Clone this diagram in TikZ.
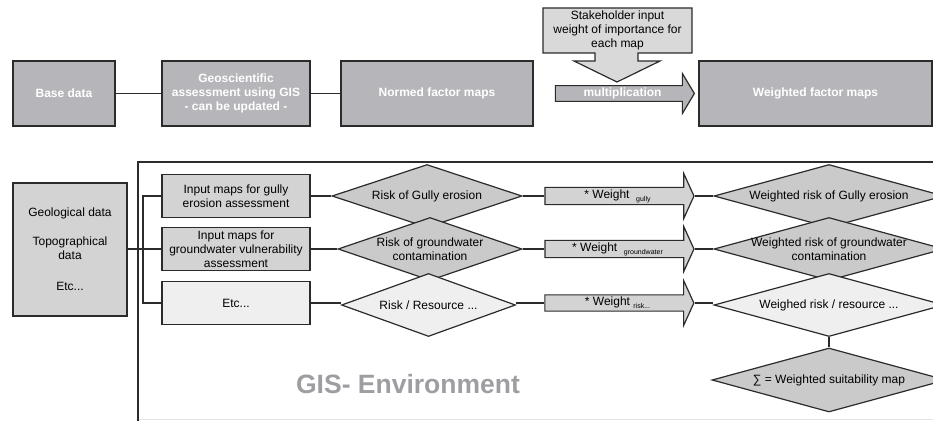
\documentclass[tikz,border=0pt]{standalone}
\usepackage{fontspec}
\setmainfont{Liberation Sans}
\usetikzlibrary{shapes.geometric,shapes.arrows}
\definecolor{boxgray}{HTML}{B6B6BA}
\definecolor{mapgray}{HTML}{D3D3D3}
\definecolor{palegray}{HTML}{EFEFEF}
\definecolor{diagray}{HTML}{CACACA}
\definecolor{envgray}{HTML}{9E9EA2}
\definecolor{edgegray}{HTML}{2B2B2B}
\tikzset{
  stepbox/.style={draw=edgegray, line width=1.5pt, fill=boxgray, text=white,
    font=\bfseries\fontsize{12}{14}\selectfont, align=center, minimum height=65pt, inner sep=0pt},
  mapbox/.style={draw=edgegray, line width=1.2pt, fill=mapgray, align=center,
    font=\fontsize{12}{14}\selectfont, minimum width=148pt, minimum height=43pt, inner sep=0pt},
  riskdia/.style={diamond, draw=edgegray, line width=1.2pt, fill=diagray,
    minimum width=188pt, minimum height=63pt, inner sep=0pt},
  risktext/.style={align=center, font=\fontsize{12}{14}\selectfont, inner sep=0pt},
  weightarrow/.style={single arrow, draw=edgegray, line width=1.2pt, fill=mapgray,
    minimum height=149pt, minimum width=45pt, single arrow head extend=11.5pt,
    single arrow tip angle=131, inner sep=0pt, font=\fontsize{12}{14}\selectfont},
  link/.style={draw=edgegray, line width=1.5pt}
}
\newcommand{\wsub}[1]{\raisebox{-3pt}{\fontsize{7}{8}\selectfont #1}}
\begin{document}
\begin{tikzpicture}[x=1pt, y=-1pt]
  \useasboundingbox (0,0) rectangle (933,420);
  \clip (0,0) rectangle (933,420);
  % GIS environment frame
  \draw [black!10, line width=1pt] (138,419) -- (960,419);
  \draw [edgegray, line width=1.5pt] (960,162) -- (138,162) -- (138,425);
  \node [text=envgray, font=\bfseries\fontsize{26.5}{30}\selectfont] (env) at (408,384) {GIS- Environment};

  % top row
  \node [stepbox, minimum width=102pt] (base) at (64,93.5) {Base data};
  \node [stepbox, minimum width=148pt] (geo) at (236,93.5) {Geoscientific\\assessment using GIS\\- can be updated -};
  \node [stepbox, minimum width=192pt] (norm) at (437,93.5) {Normed factor maps};
  \node [stepbox, minimum width=233pt] (wmaps) at (815.5,93.5) {Weighted factor maps};
  \draw [link] (base) -- (geo);
  \draw [link] (geo) -- (norm);

  % stakeholder input and multiplication
  \draw [edgegray, line width=1.2pt, fill=black!15]
    (543,8) -- (692,8) -- (692,53) -- (638,53) -- (638,61) -- (660,61) -- (617,82)
    -- (574,61) -- (595,61) -- (595,53) -- (543,53) -- cycle;
  \node [risktext] (stake) at (617.5,30) {Stakeholder input\\weight of importance for\\each map};
  \node [weightarrow, fill=boxgray, text=white, font=\bfseries\fontsize{12}{14}\selectfont,
    minimum height=139pt, minimum width=40pt, single arrow head extend=9.5pt,
    single arrow tip angle=118] (mult) at (622.5,93.5) {multiplication};

  % base data of the GIS
  \node [mapbox, minimum width=114pt, minimum height=133pt] (geodata) at (70,249.5)
    {Geological data\\[15pt]Topographical\\data\\[17pt]Etc...};
  \coordinate (br) at (143,249);

  % input maps
  \node [mapbox] (in1) at (236,196) {Input maps for gully\\erosion assessment};
  \node [mapbox] (in2) at (236,249) {Input maps for\\groundwater vulnerability\\assessment};
  \node [mapbox, fill=palegray] (in3) at (236,303) {Etc...};
  \draw [link] (geodata.east |- br) -- (in2.west);
  \draw [link] (in1.west) -- (in1.west -| br) -- (in3.west -| br) -- (in3.west);

  % risk maps
  \node [riskdia, minimum width=190pt] (r1) at (427,196) {};
  \node [riskdia, minimum width=184pt] (r2) at (430,249) {};
  \node [riskdia, minimum width=174pt, fill=palegray] (r3) at (428.5,305) {};
  \node [risktext] (r1t) at (r1) {Risk of Gully erosion};
  \node [risktext] (r2t) at (r2) {Risk of groundwater\\contamination};
  \node [risktext] (r3t) at (r3) {Risk / Resource ...};
  \draw [link] (in1) -- (r1);
  \draw [link] (in2) -- (r2);
  \draw [link] (in3.east) -- (in3.east -| r3.west);

  % weights
  \node [weightarrow] (w1) at (617.5,196) {* Weight~~\wsub{gully}};
  \node [weightarrow] (w2) at (617.5,249) {* Weight~~\wsub{groundwater}};
  \node [weightarrow] (w3) at (617.5,303) {* Weight~\wsub{risk...}};
  \draw [link] (r1.east) -- (w1.tail);
  \draw [link] (r2.east) -- (w2.tail);
  \draw [link] (r3.east |- w3.tail) -- (w3.tail);

  % weighted risk maps
  \node [riskdia, minimum width=230pt] (o1) at (829,196) {};
  \node [riskdia, minimum width=230pt] (o2) at (829,249) {};
  \node [riskdia, minimum width=230pt, fill=palegray] (o3) at (829,305) {};
  \node [riskdia, minimum width=234pt, minimum height=64pt] (sum) at (829,380) {};
  \node [risktext] (o1t) at (o1) {Weighted risk of Gully erosion};
  \node [risktext] (o2t) at (o2) {Weighted risk of groundwater\\contamination};
  \node [risktext] (o3t) at (o3) {Weighed risk / resource ...};
  \node [risktext] (sumt) at (sum) {∑ = Weighted suitability map};
  \draw [link] (w1.tip) -- (o1.west);
  \draw [link] (w2.tip) -- (o2.west);
  \draw [link] (w3.tip) -- (w3.tip -| o3.west);
  \draw [link] (o3.south) -- (sum.north);
\end{tikzpicture}
\end{document}
